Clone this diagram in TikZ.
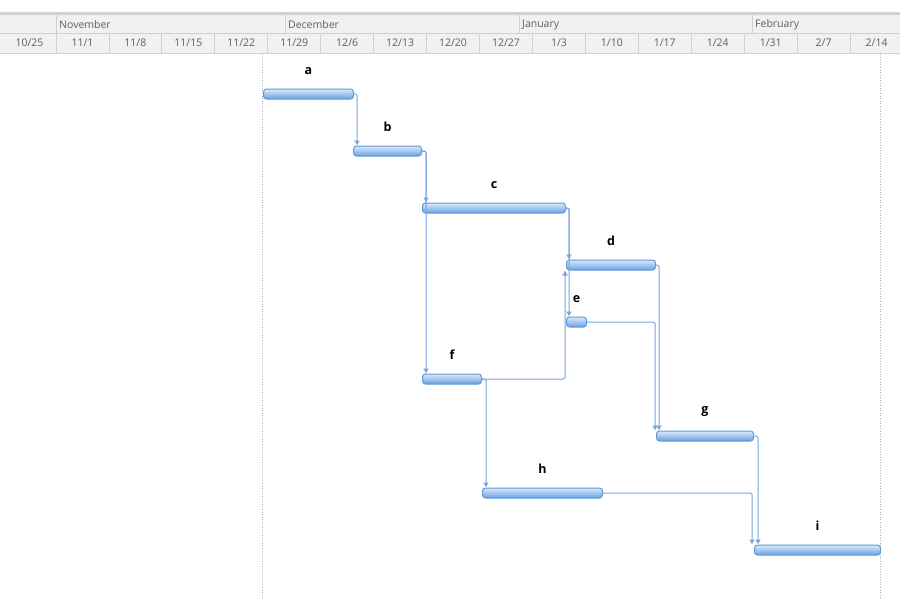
\documentclass[tikz,border=0pt]{standalone}
\usepackage{fontspec}
\setmainfont{Open Sans}
\usetikzlibrary{
    arrows.meta,
    positioning,
    calc
}
\definecolor{barline}{RGB}{91,155,213}
\definecolor{barlight}{RGB}{220,234,250}
\definecolor{bardark}{RGB}{105,160,225}
\definecolor{linkblue}{RGB}{120,165,222}
\definecolor{headerfill}{RGB}{241,241,241}
\definecolor{headerline}{RGB}{208,208,208}
\definecolor{headertext}{RGB}{95,95,95}
\tikzset{
    % Gantt bars
    taskbar/.style={
        rectangle,
        draw=barline,
        line width=1pt,
        top color=barlight,
        bottom color=bardark,
        rounded corners=3pt,
        minimum height=10pt,
        inner sep=0pt,
        anchor=west
    },
    tasklabel/.style={
        font=\fontsize{12.5}{14}\selectfont\bfseries,
        text=black,
        yshift=10pt
    },
    % Links between tasks
    link/.style={
        -{Latex[length=5pt,width=6pt]},
        line width=1pt,
        draw=linkblue,
        rounded corners=1.5pt
    },
    % Timescale
    gridline/.style={
        draw=headerline,
        line width=0.8pt
    },
    monthtext/.style={
        font=\fontsize{10.5}{12}\selectfont,
        text=headertext,
        anchor=west,
        inner sep=0pt
    },
    weektext/.style={
        font=\fontsize{10.5}{12}\selectfont,
        text=headertext,
        inner sep=0pt
    },
    dateline/.style={
        draw=gray!60,
        line width=0.6pt,
        dotted
    }
}

\begin{document}
\begin{tikzpicture}[x=1pt, y=-1pt]

    \useasboundingbox (0,0) rectangle (900,600);

    % Timescale header
    \fill[headerline] (0,12) rectangle (900,15);
    \fill[headerfill] (0,15) rectangle (900,53);
    \draw[gridline] (0,33) -- (900,33);
    \draw[gridline] (0,53) -- (900,53);
    \foreach \x/\m in {56/November, 285/December, 519/January, 752/February} {
        \draw[gridline] (\x,15) -- (\x,33);
        \node[monthtext] (mon\x) at (\x+3,25) {\m};
    }
    \foreach \d [count=\k from 0] in {10/25,11/1,11/8,11/15,11/22,11/29,12/6,12/13,12/20,12/27,1/3,1/10,1/17,1/24,1/31,2/7,2/14} {
        \node[weektext] (wk\k) at ({56+52.94*(\k-0.5)},43) {\d};
        \draw[gridline] ({56+52.94*\k},33) -- ++(0,20);
    }

    % Project start / finish
    \draw[dateline] (262,54) -- (262,600);
    \draw[dateline] (880,54) -- (880,600);

    % Tasks
    \node[taskbar, minimum width=90pt,  label={[tasklabel]above:a}] (a) at (263,94) {};
    \node[taskbar, minimum width=68pt,  label={[tasklabel]above:b}] (b) at (353,151) {};
    \node[taskbar, minimum width=143pt, label={[tasklabel]above:c}] (c) at (422,208) {};
    \node[taskbar, minimum width=89pt,  label={[tasklabel]above:d}] (d) at (566,265) {};
    \node[taskbar, minimum width=20pt,  label={[tasklabel]above:e}] (e) at (566,322) {};
    \node[taskbar, minimum width=59pt,  label={[tasklabel]above:f}] (f) at (422,379) {};
    \node[taskbar, minimum width=97pt,  label={[tasklabel]above:g}] (g) at (656,436) {};
    \node[taskbar, minimum width=120pt, label={[tasklabel]above:h}] (h) at (482,493) {};
    \node[taskbar, minimum width=126pt, label={[tasklabel]above:i}] (i) at (754,550) {};

    % Links
    \draw[link] (a.east) -| ([xshift=4pt]b.north west);
    \draw[link] (b.east) -| ([xshift=4pt]c.north west);
    \draw[link] (b.east) -| ([xshift=4pt]f.north west);
    \draw[link] (c.east) -| ([xshift=3pt]d.north west);
    \draw[link] (c.east) -| ([xshift=3pt]e.north west);
    \draw[link] (f.east) -| ([xshift=-1pt]d.south west);
    \draw[link] (f.east) -| ([xshift=4pt]h.north west);
    \draw[link] (d.east) -| ([xshift=3pt]g.north west);
    \draw[link] (e.east) -| ([xshift=-1pt]g.north west);
    \draw[link] (g.east) -| ([xshift=4pt]i.north west);
    \draw[link] (h.east) -| ([xshift=-2pt]i.north west);

\end{tikzpicture}
\end{document}
